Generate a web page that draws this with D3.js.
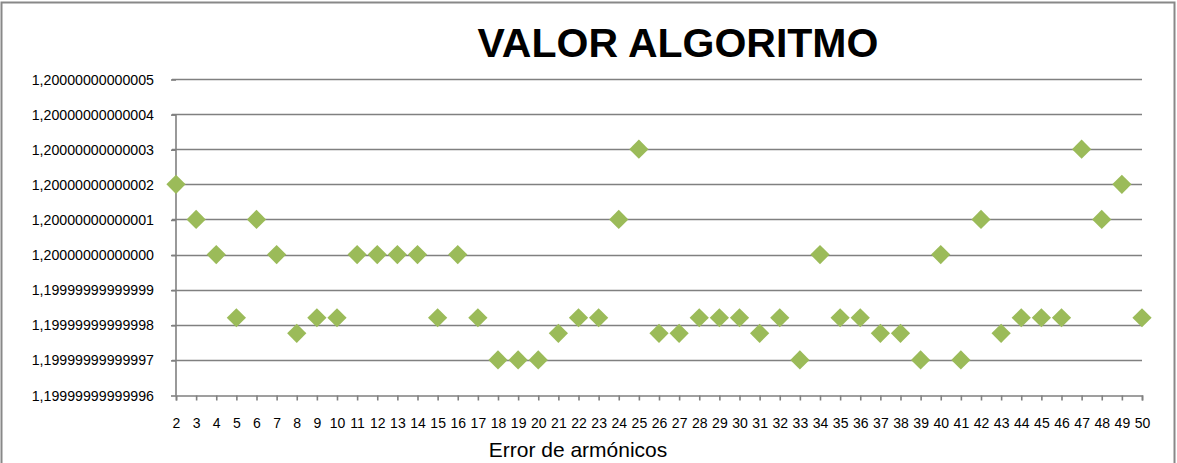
<!DOCTYPE html>
<html>
<head>
<meta charset="utf-8">
<script src="https://cdn.jsdelivr.net/npm/d3@7"></script>
<style>
  body { margin: 0; background: #fff; }
  text { font-family: "Liberation Sans", Arial, sans-serif; fill: #000; }
</style>
</head>
<body>
<div id="chart"></div>
<script>
// data
var harmonics = d3.range(2, 51)
var values = [
    1.20000000000002, 1.20000000000001, 1.20000000000000, 1.199999999999982, 1.20000000000001,
    1.20000000000000, 1.1999999999999775, 1.199999999999982, 1.199999999999982, 1.20000000000000,
    1.20000000000000, 1.20000000000000, 1.20000000000000, 1.199999999999982, 1.20000000000000,
    1.199999999999982, 1.19999999999997, 1.19999999999997, 1.19999999999997, 1.1999999999999775,
    1.199999999999982, 1.199999999999982, 1.20000000000001, 1.20000000000003, 1.1999999999999775,
    1.1999999999999775, 1.199999999999982, 1.199999999999982, 1.199999999999982, 1.1999999999999775,
    1.199999999999982, 1.19999999999997, 1.20000000000000, 1.199999999999982, 1.199999999999982,
    1.1999999999999775, 1.1999999999999775, 1.19999999999997, 1.20000000000000, 1.19999999999997,
    1.20000000000001, 1.1999999999999775, 1.199999999999982, 1.199999999999982, 1.199999999999982,
    1.20000000000003, 1.20000000000001, 1.20000000000002, 1.199999999999982
]
var yTickValues = [1.19999999999996, 1.19999999999997, 1.19999999999998, 1.19999999999999, 1.20000000000000,
    1.20000000000001, 1.20000000000002, 1.20000000000003, 1.20000000000004, 1.20000000000005]
var yTickLabels = ["1,19999999999996", "1,19999999999997", "1,19999999999998", "1,19999999999999", "1,20000000000000",
    "1,20000000000001", "1,20000000000002", "1,20000000000003", "1,20000000000004", "1,20000000000005"]

var svgSize = { width: 1177, height: 463 }

var svg = d3.select("#chart")
    .append("svg")
    .attr("width", svgSize.width)
    .attr("height", svgSize.height)

// chart border
svg.append("rect")
    .attr("x", 1.5).attr("y", 2.5)
    .attr("width", 1173).attr("height", 475)
    .attr("fill", "none")
    .attr("stroke", "#888")
    .attr("stroke-width", 2)

var plot = { left: 176, right: 1142, top: 79, bottom: 395 }

var xScale = d3.scaleLinear()
    .domain([2, 50])
    .range([plot.left, plot.right])

var yScale = d3.scaleLinear()
    .domain([yTickValues[0], yTickValues[yTickValues.length - 1]])
    .range([plot.bottom, plot.top])

// gridlines
svg.append("g")
    .selectAll("line")
    .data(yTickValues.slice(1))
    .enter()
    .append("line")
    .attr("x1", plot.left - 4)
    .attr("x2", plot.right)
    .attr("y1", d => Math.round(yScale(d)) + 0.5)
    .attr("y2", d => Math.round(yScale(d)) + 0.5)
    .attr("stroke", "#808080")
    .attr("stroke-width", 1.6)

// y axis
var leftAxis = d3.axisLeft(yScale)
    .tickValues(yTickValues)
    .tickSize(5)
    .tickPadding(17)
    .tickFormat((d, i) => yTickLabels[i])

var yAxis = svg.append("g")
    .attr("transform", `translate(${plot.left}, 0.5)`)
    .call(leftAxis)
yAxis.select(".domain").remove()
yAxis.selectAll(".tick line").attr("stroke", "#808080").attr("stroke-width", 1.6)
yAxis.selectAll(".tick text").style("font-size", "14.2px").attr("font-family", null)
yAxis.append("line")
    .attr("x1", 0).attr("x2", 0)
    .attr("y1", yScale(yTickValues[8]))
    .attr("y2", yScale(yTickValues[0]))
    .attr("stroke", "#808080")
    .attr("stroke-width", 1.6)

// x axis
var bottomAxis = d3.axisBottom(xScale)
    .tickValues(harmonics)
    .tickSize(5)
    .tickPadding(18)
    .tickFormat(d3.format("d"))

var xAxis = svg.append("g")
    .attr("transform", `translate(0, ${Math.round(plot.bottom) + 0.5})`)
    .call(bottomAxis)
xAxis.select(".domain").attr("stroke", "#808080").attr("stroke-width", 1.6)
xAxis.selectAll(".tick line").attr("stroke", "#808080").attr("stroke-width", 1.6)
xAxis.selectAll(".tick text").style("font-size", "14px").attr("font-family", null)

// diamonds
var diamond = d3.symbol().type(d3.symbolSquare).size(185)
svg.append("g")
    .selectAll("path")
    .data(harmonics)
    .enter()
    .append("path")
    .attr("d", diamond)
    .attr("transform", (d, i) => `translate(${xScale(d)}, ${yScale(values[i])}) rotate(45)`)
    .attr("fill", "#9BBB59")

// titles
svg.append("text")
    .attr("x", 678)
    .attr("y", 57)
    .attr("text-anchor", "middle")
    .style("font-size", "41px")
    .style("font-weight", "bold")
    .text("VALOR ALGORITMO")

svg.append("text")
    .attr("x", 578)
    .attr("y", 457)
    .attr("text-anchor", "middle")
    .style("font-size", "21px")
    .text("Error de armónicos")
</script>
</body>
</html>
